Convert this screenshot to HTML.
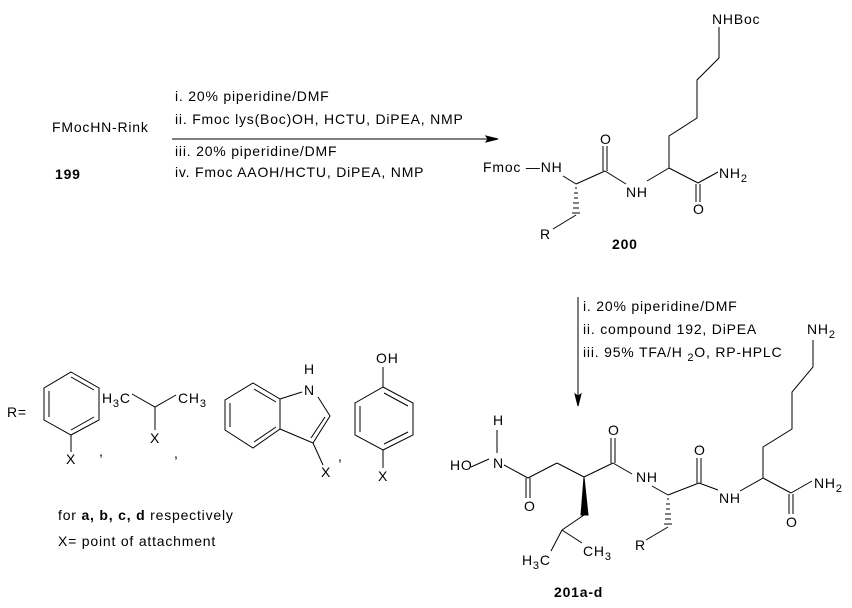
<!DOCTYPE html>
<html><head><meta charset="utf-8"><style>
html,body{margin:0;padding:0;background:#fff;}
svg{display:block;}
text{font-family:"Liberation Sans",Arial,sans-serif;font-size:14px;letter-spacing:0.8px;fill:#000;}
.b{font-weight:bold;}
.s{font-size:11px;}
line,polyline,polygon{stroke:#000;stroke-width:1;fill:none;}
</style></head><body>
<svg width="852" height="608" viewBox="0 0 852 608" xmlns="http://www.w3.org/2000/svg">
<!-- step 1 -->
<text x="52" y="132">FMocHN-Rink</text>
<text x="55" y="179" class="b">199</text>
<text x="175" y="101">i. 20% piperidine/DMF</text>
<text x="175" y="124">ii. Fmoc lys(Boc)OH, HCTU, DiPEA, NMP</text>
<text x="175" y="156">iii. 20% piperidine/DMF</text>
<text x="175" y="177">iv. Fmoc AAOH/HCTU, DiPEA, NMP</text>
<line x1="172" y1="139" x2="492" y2="139"/>
<polygon points="498,139 486,136 488,139 486,142" style="fill:#000"/>

<!-- compound 200 -->
<text x="712" y="24">NHBoc</text>
<polyline points="719,27 719,58 697,80 697,118 669,136 669,168"/>
<line x1="669" y1="168" x2="647" y2="181"/>
<line x1="669" y1="168" x2="698" y2="183"/>
<line x1="696" y1="184" x2="696" y2="202"/><line x1="700" y1="184" x2="700" y2="202"/>
<text x="693" y="214">O</text>
<line x1="698" y1="183" x2="718" y2="172"/>
<text x="719" y="178">NH<tspan class="s" dy="4">2</tspan></text>
<text x="626" y="197">NH</text>
<line x1="626" y1="184" x2="605" y2="171"/>
<line x1="603" y1="171" x2="603" y2="146"/><line x1="607" y1="171" x2="607" y2="146"/>
<text x="600" y="144">O</text>
<line x1="605" y1="171" x2="576" y2="184"/>
<text x="483" y="172">Fmoc —NH</text>
<line x1="563" y1="176" x2="576" y2="184"/>
<g stroke="#000"><line x1="575" y1="188" x2="577" y2="188"/><line x1="574" y1="193" x2="578" y2="193"/><line x1="574" y1="198" x2="578" y2="198"/><line x1="573" y1="203" x2="579" y2="203"/><line x1="573" y1="208" x2="579" y2="208"/><line x1="572" y1="213" x2="580" y2="213"/></g>
<line x1="576" y1="215" x2="553" y2="229"/>
<text x="540" y="239">R</text>
<text x="612" y="249" class="b">200</text>

<!-- step 2 -->
<line x1="578" y1="297" x2="578" y2="400"/>
<polygon points="578,406 575,394 578,396 581,394" style="fill:#000"/>
<text x="583" y="311">i. 20% piperidine/DMF</text>
<text x="583" y="334">ii. compound 192, DiPEA</text>
<text x="583" y="357">iii. 95% TFA/H <tspan class="s" dy="4">2</tspan><tspan dy="-4">O, RP-HPLC</tspan></text>

<!-- compound 201 -->
<text x="807" y="334">NH<tspan class="s" dy="4">2</tspan></text>
<polyline points="813,340 813,367 792,392 792,429 763,447 763,478"/>
<line x1="763" y1="478" x2="740" y2="491"/>
<line x1="763" y1="478" x2="791" y2="493"/>
<line x1="789" y1="494" x2="789" y2="514"/><line x1="793" y1="494" x2="793" y2="514"/>
<text x="786" y="527">O</text>
<line x1="791" y1="493" x2="812" y2="481"/>
<text x="814" y="488">NH<tspan class="s" dy="4">2</tspan></text>
<text x="719" y="503">NH</text>
<line x1="718" y1="490" x2="699" y2="483"/>
<line x1="697" y1="483" x2="697" y2="458"/><line x1="701" y1="483" x2="701" y2="458"/>
<text x="694" y="455">O</text>
<line x1="699" y1="483" x2="668" y2="495"/>
<text x="636" y="482">NH</text>
<line x1="652" y1="486" x2="668" y2="495"/>
<g><line x1="667" y1="499" x2="669" y2="499"/><line x1="666" y1="504" x2="670" y2="504"/><line x1="666" y1="509" x2="670" y2="509"/><line x1="665" y1="514" x2="671" y2="514"/><line x1="665" y1="519" x2="671" y2="519"/><line x1="664" y1="524" x2="672" y2="524"/></g>
<line x1="668" y1="527" x2="646" y2="540"/>
<text x="635" y="550">R</text>
<line x1="632" y1="474" x2="613" y2="463"/>
<line x1="611" y1="463" x2="611" y2="438"/><line x1="615" y1="463" x2="615" y2="438"/>
<text x="608" y="435">O</text>
<line x1="613" y1="463" x2="584" y2="477"/>
<polygon points="584,477 581,515 588,515" style="fill:#000"/>
<line x1="584" y1="515" x2="562" y2="530"/>
<line x1="562" y1="530" x2="551" y2="551"/>
<line x1="562" y1="530" x2="582" y2="543"/>
<text x="522" y="565">H<tspan class="s" dy="4">3</tspan><tspan dy="-4">C</tspan></text>
<text x="583" y="556">CH<tspan class="s" dy="4">3</tspan></text>
<line x1="584" y1="477" x2="557" y2="463"/>
<line x1="557" y1="463" x2="528" y2="478"/>
<line x1="526" y1="478" x2="526" y2="498"/><line x1="530" y1="478" x2="530" y2="498"/>
<text x="524" y="511">O</text>
<line x1="528" y1="478" x2="504" y2="465"/>
<text x="493" y="468">N</text>
<text x="493" y="425">H</text>
<line x1="497" y1="430" x2="497" y2="453"/>
<text x="450" y="470">HO</text>
<line x1="471" y1="467" x2="489" y2="459"/>
<text x="554" y="597" class="b">201a-d</text>

<!-- R= panel -->
<text x="7" y="417">R=</text>
<polygon points="71,372 99,388 99,420 71,435 44,420 44,388"/>
<line x1="49" y1="391" x2="49" y2="417"/><line x1="71" y1="377" x2="94" y2="390"/><line x1="71" y1="430" x2="94" y2="417"/>
<line x1="71" y1="435" x2="71" y2="452"/>
<text x="66" y="464">X</text>
<text x="99" y="456">,</text>
<text x="102" y="403">H<tspan class="s" dy="4">3</tspan><tspan dy="-4">C</tspan></text>
<text x="178" y="403">CH<tspan class="s" dy="4">3</tspan></text>
<polyline points="132,394 155,407 176,395"/>
<line x1="155" y1="407" x2="155" y2="430"/>
<text x="150" y="443">X</text>
<text x="174" y="458">,</text>
<polygon points="253,383 280,399 280,429 253,448 225,430 225,400"/>
<line x1="230" y1="403" x2="230" y2="427"/><line x1="254" y1="389" x2="276" y2="402"/><line x1="254" y1="442" x2="276" y2="427"/>
<line x1="280" y1="399" x2="302" y2="392"/>
<polyline points="318,397 330,416 313,443 280,429"/>
<line x1="325" y1="417" x2="311" y2="438"/>
<text x="304" y="395">N</text>
<text x="304" y="374">H</text>
<line x1="313" y1="443" x2="323" y2="465"/>
<text x="321" y="477">X</text>
<text x="338" y="461">,</text>
<polygon points="383,387 413,403 413,435 383,450 355,435 355,403"/>
<line x1="360" y1="406" x2="360" y2="432"/><line x1="384" y1="393" x2="408" y2="406"/><line x1="384" y1="444" x2="408" y2="432"/>
<line x1="383" y1="367" x2="383" y2="387"/>
<text x="376" y="363">OH</text>
<line x1="383" y1="450" x2="383" y2="468"/>
<text x="378" y="481">X</text>
<text x="58" y="520">for  <tspan class="b">a, b, c, d</tspan>  respectively</text>
<text x="58" y="546">X= point of attachment</text>
</svg>
</body></html>
